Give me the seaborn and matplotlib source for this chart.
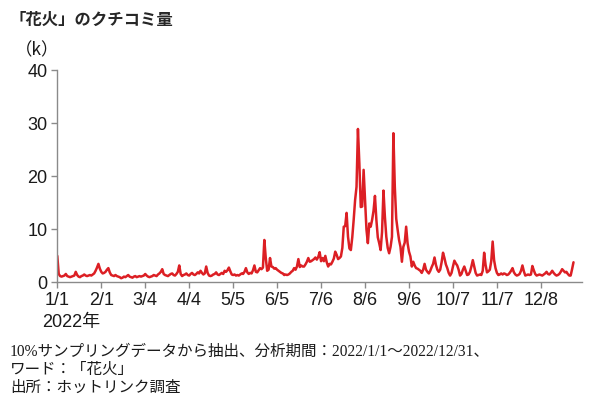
import pandas as pd
import seaborn as sns
import matplotlib.pyplot as plt

# 日次のクチコミ量（単位: k）、画像から読み取った値
jan = [5.0, 1.6, 1.2, 1.1, 1.2, 1.3, 1.6, 1.2, 1.1, 1.0, 1.1, 1.2, 1.3, 2.0, 1.4, 1.1,
       1.0, 1.2, 1.3, 1.5, 1.3, 1.2, 1.3, 1.4, 1.3, 1.5, 1.7, 2.2, 2.8, 3.5, 2.6]
feb = [2.0, 1.7, 1.8, 2.0, 2.4, 2.7, 1.9, 1.4, 1.3, 1.2, 1.4, 1.2, 1.1, 1.0, 0.8, 0.9,
       1.1, 1.0, 1.2, 1.4, 1.1, 1.0, 0.9, 1.1, 1.2, 1.0, 1.1, 1.2]
mar = [1.1, 1.2, 1.3, 1.6, 1.3, 1.1, 1.0, 1.1, 1.2, 1.4, 1.3, 1.2, 1.5, 1.7, 2.0, 2.5,
       1.6, 1.4, 1.3, 1.2, 1.4, 1.6, 1.7, 1.4, 1.3, 1.6, 2.0, 3.2, 1.6, 1.2, 1.4]
apr = [1.5, 1.7, 1.4, 1.3, 1.6, 1.8, 1.5, 1.4, 1.6, 1.9, 1.7, 2.2, 1.8, 1.5, 1.7, 3.0,
       1.8, 1.3, 1.2, 1.3, 1.5, 1.6, 1.9, 1.5, 1.4, 1.6, 1.8, 1.6, 2.2, 2.0]
may = [2.3, 2.8, 2.1, 1.5, 1.4, 1.5, 1.3, 1.4, 1.3, 1.5, 1.7, 1.6, 2.0, 2.7, 1.9, 1.6,
       1.8, 1.7, 2.3, 3.2, 2.0, 1.9, 2.3, 2.7, 2.5, 2.8, 8.0, 4.6, 2.2, 2.4, 4.6]
jun = [3.0, 2.9, 2.6, 2.7, 2.4, 2.2, 2.0, 1.8, 1.7, 1.4, 1.5, 1.4, 1.5, 1.7, 2.0, 2.2,
       2.7, 2.4, 3.0, 4.4, 2.9, 3.2, 3.0, 3.0, 3.4, 3.9, 4.6, 3.9, 4.0, 4.2]
jul = [4.4, 4.7, 4.3, 4.8, 5.7, 4.0, 4.6, 4.0, 5.0, 3.8, 3.0, 3.5, 3.4, 3.9, 4.5, 5.8,
       5.2, 4.4, 4.6, 4.9, 6.5, 10.5, 10.6, 13.1, 8.6, 6.4, 6.1, 8.5, 11.8, 15.5, 18.0]
aug = [28.9, 22.4, 14.2, 14.3, 21.2, 15.5, 10.0, 7.4, 11.1, 10.5, 11.8, 13.5, 16.3,
       11.8, 8.5, 7.4, 6.1, 9.5, 17.3, 12.4, 8.6, 6.5, 5.5, 6.7, 8.6, 28.1, 18.0, 12.0,
       9.9, 8.0, 6.7]
sep = [3.9, 6.7, 7.5, 10.5, 7.4, 5.8, 4.9, 3.0, 3.9, 3.2, 2.7, 2.6, 2.4, 2.2, 1.8, 2.4,
       3.5, 2.4, 2.0, 1.7, 2.2, 2.9, 3.5, 4.7, 3.3, 2.4, 2.0, 2.4, 3.8, 5.6]
oct = [4.6, 3.4, 2.7, 1.8, 1.3, 1.8, 3.0, 4.1, 3.6, 3.2, 2.4, 1.3, 1.6, 2.4, 3.0, 2.2,
       1.4, 1.5, 2.0, 3.0, 4.2, 3.0, 1.8, 1.3, 1.4, 1.5, 1.4, 2.2, 5.6, 3.3, 1.9]
nov = [2.1, 2.4, 4.0, 7.7, 4.2, 2.7, 1.8, 1.4, 1.5, 1.7, 1.5, 1.7, 1.6, 1.4, 1.5, 1.8,
       2.2, 2.7, 1.9, 1.5, 1.3, 1.4, 1.6, 2.2, 3.2, 2.1, 1.3, 1.4, 1.5, 1.4]
dec = [1.5, 3.1, 2.3, 1.6, 1.3, 1.4, 1.5, 1.4, 1.3, 1.5, 1.7, 2.0, 1.6, 1.5, 1.8, 2.2,
       1.8, 1.5, 1.3, 1.4, 1.6, 2.0, 2.5, 2.2, 1.9, 2.0, 1.6, 1.3, 1.3, 2.5, 3.8]

tick_dates = ["2022-01-01", "2022-02-01", "2022-03-04", "2022-04-04", "2022-05-05",
              "2022-06-05", "2022-07-06", "2022-08-06", "2022-09-06", "2022-10-07",
              "2022-11-07", "2022-12-08"]
tick_labels = ["1/1", "2/1", "3/4", "4/4", "5/5", "6/5", "7/6", "8/6", "9/6",
               "10/7", "11/7", "12/8"]
y_ticks = [0, 10, 20, 30, 40]

title = "「花火」のクチコミ量"
notes = ["10%サンプリングデータから抽出、分析期間：2022/1/1〜2022/12/31、",
         "ワード：「花火」",
         "出所：ホットリンク調査"]

values = jan + feb + mar + apr + may + jun + jul + aug + sep + oct + nov + dec
dates = pd.date_range("2022-01-01", "2022-12-31", freq="D")
df = pd.DataFrame({"date": dates, "count": values})

sns.set_style("ticks")
cjk = ["Liberation Sans", "Noto Sans CJK JP", "DejaVu Sans"]
plt.rcParams["font.family"] = cjk

fig = plt.figure(figsize=(6, 4.07), dpi=100)
ax = fig.add_axes([0.0955, 0.306, 0.8745, 0.522])

sns.lineplot(data=df, x="date", y="count", color="#dc1f24", linewidth=1.8, ax=ax)

ax.set_ylim(0, 40)
ax.set_xlim(pd.Timestamp("2022-01-01"), pd.Timestamp("2023-01-06"))
ax.set_yticks(y_ticks)
ax.set_xticks(pd.to_datetime(tick_dates))
ax.set_xticklabels(tick_labels)
ax.set_xlabel("")
ax.set_ylabel("")
sns.despine(ax=ax)
for s in ["left", "bottom"]:
    ax.spines[s].set_color("#8a8a8a")
    ax.spines[s].set_linewidth(1.0)
ax.tick_params(axis="both", colors="#8a8a8a", length=4, width=1, labelsize=13,
               labelcolor="#1a1a1a", pad=3)

fig.text(9 / 600, 1 - 20 / 407, title, fontsize=11.8, fontweight="bold",
         ha="left", va="center", family=["Noto Sans CJK JP"])
fig.text(15 / 600, 1 - 50 / 407, "（k）", fontsize=12.5, ha="left", va="center",
         family=["Noto Sans CJK JP"], color="#1a1a1a")
fig.text(42.5 / 600, 1 - 322 / 407, "2022年", fontsize=13, ha="left", va="center",
         color="#1a1a1a")
for i, line in enumerate(notes):
    fig.text(10 / 600, 1 - (352 + 18 * i) / 407, line, fontsize=11.2, ha="left",
             va="center", family=["Liberation Serif", "Noto Sans CJK JP"], color="#1a1a1a")

fig.savefig("out.png", dpi=100)
